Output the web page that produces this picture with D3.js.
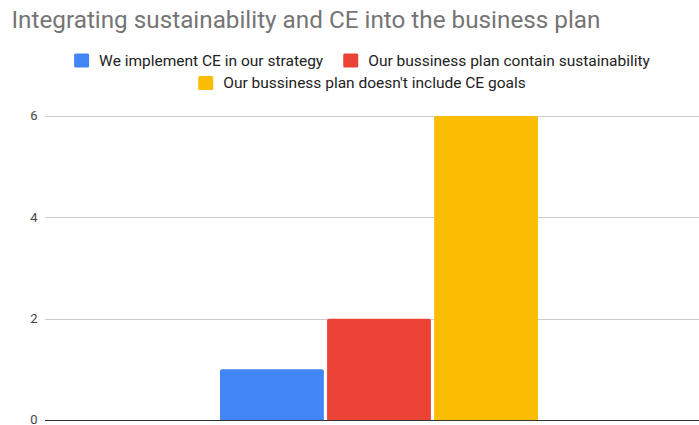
<!DOCTYPE html>
<html><head><meta charset="utf-8">
<script src="https://cdn.jsdelivr.net/npm/d3@7"></script>
<style>body{margin:0;background:#fff;}svg{display:block;font-family:Roboto, Arial, sans-serif;}</style>
</head><body>
<svg id="c" width="699" height="425"></svg>
<script>
const title = "Integrating sustainability and CE into the business plan";
const categories = [""];
const seriesNames = ["We implement CE in our strategy", "Our bussiness plan contain sustainability", "Our bussiness plan doesn't include CE goals"];
const seriesValues = [1, 2, 6];
const seriesColors = ["#4285f4", "#ea4335", "#fbbc04"];
const yTicks = [0, 2, 4, 6];

const svg = d3.select("#c");
const plotLeft = 45, plotRight = 713, plotTop = 116, plotBottom = 420;

const y = d3.scaleLinear().domain([0, 6]).range([plotBottom, plotTop]);
const x0 = d3.scaleBand().domain(categories).range([plotLeft, plotRight]).paddingInner(0.355).paddingOuter(0.355);
const x1 = d3.scaleBand().domain(seriesNames).range([0, x0.bandwidth()]).paddingInner(0.03);

const tt = svg.append("text").attr("x", 11.5).attr("y", 27.5).attr("font-size", 22.6).attr("fill", "#757575").text(title);
const tw = tt.node().getComputedTextLength();
tt.attr("font-size", 22.6 * 589 / tw);

// gridlines
const grid = svg.append("g");
yTicks.forEach(t => {
  grid.append("line").attr("x1", plotLeft).attr("x2", 699).attr("y1", Math.round(y(t)) + 0.5).attr("y2", Math.round(y(t)) + 0.5)
    .attr("stroke", t === 0 ? "#333" : "#ccc").attr("stroke-width", 1);
  svg.append("text").attr("x", 37.5).attr("y", y(t) + 4.3).attr("text-anchor", "end").attr("font-size", 13).attr("fill", "#444").text(t);
});

// bars
const g = svg.append("g");
categories.forEach(c => {
  seriesNames.forEach((s, i) => {
    const v = seriesValues[i];
    const bx = x0(c) + x1(s), bw = x1.bandwidth(), by = y(v);
    const r = 2;
    g.append("path")
      .attr("d", `M${bx},${plotBottom} L${bx},${by + r} Q${bx},${by} ${bx + r},${by} L${bx + bw - r},${by} Q${bx + bw},${by} ${bx + bw},${by + r} L${bx + bw},${plotBottom} Z`)
      .attr("fill", seriesColors[i]);
  });
});
svg.append("line").attr("x1", plotLeft).attr("x2", 699).attr("y1", Math.round(y(0)) + 0.5).attr("y2", Math.round(y(0)) + 0.5).attr("stroke", "#333");

// legend
const legendRows = [[0, 1], [2]];
const rowY = [60.5, 83];
const sw = 15, gapText = 10, gapItem = 20, fs = 15.5;
legendRows.forEach((row, ri) => {
  const lg = svg.append("g");
  let xpos = 0;
  row.forEach((si) => {
    const item = lg.append("g").attr("transform", `translate(${xpos},0)`);
    item.append("rect").attr("x", 0).attr("y", -7).attr("width", sw).attr("height", 14).attr("rx", 1.5).attr("fill", seriesColors[si]);
    const t = item.append("text").attr("x", sw + gapText).attr("y", 5.3).attr("font-size", fs).attr("fill", "#222").text(seriesNames[si]);
    const w = t.node().getComputedTextLength();
    xpos += sw + gapText + w + gapItem;
  });
  const total = xpos - gapItem;
  lg.attr("transform", `translate(${362 - total / 2},${rowY[ri]})`);
});
</script>
</body></html>
